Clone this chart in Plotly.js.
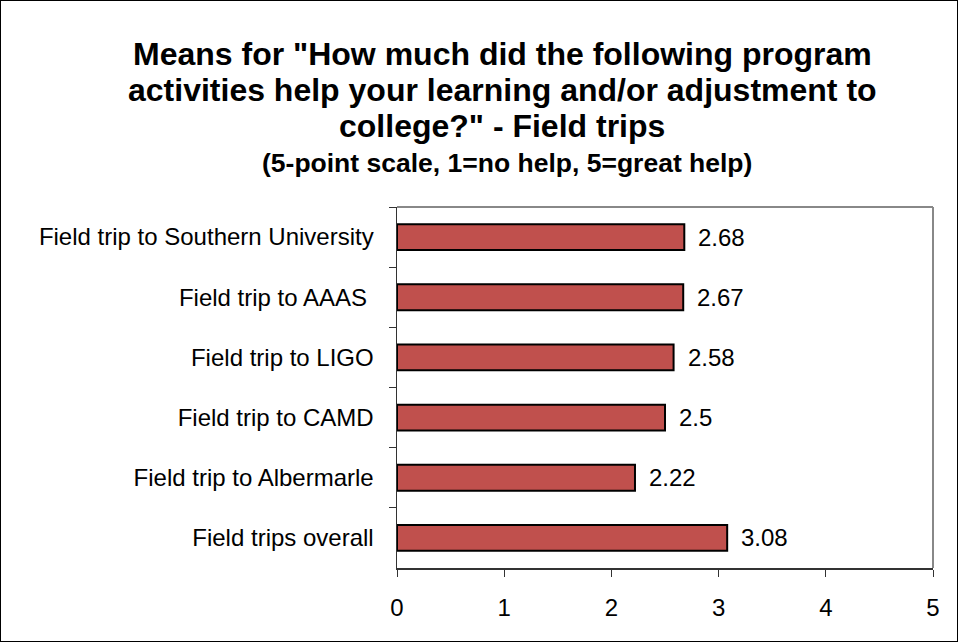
<!DOCTYPE html>
<html>
<head>
<meta charset="utf-8">
<script src="https://cdn.plot.ly/plotly-3.0.1.min.js"></script>
<style>
  html, body { margin: 0; padding: 0; background: #fff; }
  #chart { position: absolute; left: 0; top: 0; width: 958px; height: 642px; }
  #frame { position: absolute; left: 0; top: 0; width: 958px; height: 642px; box-sizing: border-box; border: 1px solid #000; pointer-events: none; }
</style>
</head>
<body>
<div id="chart"></div>
<div id="frame"></div>
<script>
const categories = [
  "Field trip to Southern University",
  "Field trip to AAAS ",
  "Field trip to LIGO",
  "Field trip to CAMD",
  "Field trip to Albermarle",
  "Field trips overall"
];
const means = [2.68, 2.67, 2.58, 2.5, 2.22, 3.08];
const xTicks = [0, 1, 2, 3, 4, 5];

const titleLines = [
  'Means for "How much did the following program',
  'activities help your learning and/or adjustment to',
  'college?" - Field trips'
];
const subtitleText = '(5-point scale, 1=no help, 5=great help)';

const font = 'Liberation Sans, Arial, sans-serif';

const trace = {
  type: 'bar',
  orientation: 'h',
  x: means,
  y: categories,
  marker: { color: '#C0504D', line: { color: '#000000', width: 2 } },
  hoverinfo: 'none'
};

const labelAnnotations = means.map((v, i) => ({
  x: v, y: categories[i], xref: 'x', yref: 'y',
  text: String(v), showarrow: false, xanchor: 'left', yanchor: 'middle',
  xshift: 12, font: { family: font, size: 24, color: '#000' }
}));

const titleCenterX = (502 - 397) / 536;
const titleShifts = [153, 117, 81];
const titleAnnotations = titleLines.map((t, i) => ({
  xref: 'paper', yref: 'paper', x: titleCenterX, y: 1, yshift: titleShifts[i],
  xanchor: 'center', yanchor: 'middle', showarrow: false,
  text: t, font: { family: font, size: 32, color: '#000', weight: 'bold' }
}));

const layout = {
  width: 958, height: 642,
  margin: { l: 397, r: 25, t: 207, b: 74 },
  paper_bgcolor: '#fff', plot_bgcolor: '#fff',
  showlegend: false,
  bargap: 0.57,
  font: { family: font, size: 24, color: '#000' },
  xaxis: {
    range: [0, 5], tickvals: xTicks, ticktext: xTicks.map(String),
    showgrid: false, zeroline: false,
    showline: true, linecolor: '#333', linewidth: 1.5,
    ticks: 'outside', ticklen: 7, tickcolor: '#333', tickwidth: 1,
    ticklabelstandoff: 11,
    tickfont: { family: font, size: 24, color: '#000' }
  },
  yaxis: {
    autorange: 'reversed', type: 'category',
    showgrid: false, zeroline: false,
    showline: true, linecolor: '#333', linewidth: 1.5,
    ticks: 'outside', ticklen: 7, tickcolor: '#333', tickwidth: 1,
    tickson: 'boundaries',
    ticklabelstandoff: 17,
    tickfont: { family: font, size: 24, color: '#000' }
  },
  shapes: [
    { type: 'line', xref: 'paper', yref: 'paper', x0: 0, x1: 1, y0: 1, y1: 1, line: { color: '#888', width: 2 } },
    { type: 'line', xref: 'paper', yref: 'paper', x0: 1, x1: 1, y0: 0, y1: 1, line: { color: '#888', width: 2 } }
  ],
  annotations: [
    ...titleAnnotations,
    { xref: 'paper', yref: 'paper', x: (507 - 397) / 536, y: 1, yshift: 44, xanchor: 'center', yanchor: 'middle', showarrow: false,
      text: subtitleText, font: { family: font, size: 26.5, color: '#000', weight: 'bold' } },
    ...labelAnnotations
  ]
};

Plotly.newPlot('chart', [trace], layout, { displayModeBar: false, staticPlot: true });
</script>
</body>
</html>
